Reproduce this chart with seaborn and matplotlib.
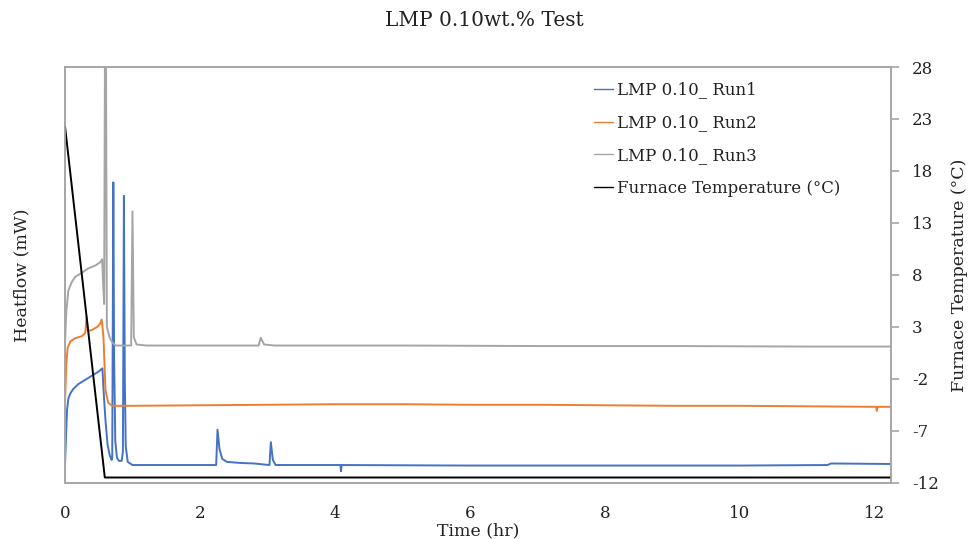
import matplotlib
matplotlib.use("Agg")
import matplotlib.pyplot as plt
import seaborn as sns
import pandas as pd

# ---------------- data ----------------
run1_t = [0.00, 0.015, 0.03, 0.05, 0.08, 0.12, 0.20, 0.30, 0.40, 0.50, 0.554, 0.575, 0.60, 0.63,
          0.66, 0.69, 0.70, 0.716, 0.728, 0.745, 0.77, 0.80, 0.84, 0.858, 0.873, 0.886, 0.90,
          0.93, 1.00, 2.24, 2.26, 2.29, 2.33, 2.40, 2.60, 2.80, 3.03, 3.05, 3.08, 3.12, 4.08,
          4.09, 4.10, 6.00, 8.00, 10.00, 11.30, 11.35, 12.24]
run1_v = [-10.4, -7.5, -5.0, -3.9, -3.4, -3.0, -2.5, -2.1, -1.7, -1.3, -1.0, -3.5, -6.0, -8.3,
          -9.3, -9.8, -9.6, 16.9, 0.0, -8.0, -9.6, -9.9, -9.9, -9.0, 15.6, -2.0, -8.5,
          -10.0, -10.3, -10.3, -6.9, -8.8, -9.7, -10.0, -10.1, -10.15, -10.3, -8.1, -9.8, -10.3, -10.3,
          -10.9, -10.3, -10.35, -10.35, -10.35, -10.3, -10.15, -10.2]

run2_t = [0.00, 0.02, 0.04, 0.08, 0.15, 0.25, 0.30, 0.32, 0.34, 0.40, 0.48, 0.52, 0.545,
          0.57, 0.60, 0.64, 0.70, 1.00, 2.00, 3.00, 4.00, 5.00, 6.00, 7.00, 8.00, 9.00,
          10.00, 11.00, 12.02, 12.03, 12.04, 12.24]
run2_v = [-4.3, -0.5, 1.0, 1.6, 1.9, 2.1, 2.4, 3.9, 2.6, 2.7, 3.0, 3.3, 3.7,
          2.0, -3.1, -4.3, -4.6, -4.6, -4.55, -4.5, -4.45, -4.45, -4.5, -4.5, -4.55, -4.6,
          -4.6, -4.65, -4.7, -5.1, -4.7, -4.7]

run3_t = [0.00, 0.02, 0.05, 0.10, 0.15, 0.25, 0.34, 0.45, 0.52, 0.55, 0.565, 0.58, 0.60,
          0.62, 0.66, 0.70, 0.75, 0.85, 0.98, 1.00, 1.02, 1.06, 1.20, 2.00, 2.87, 2.90,
          2.95, 3.10, 5.00, 7.00, 9.00, 11.00, 12.24]
run3_v = [1.5, 4.5, 6.5, 7.3, 7.8, 8.2, 8.6, 8.9, 9.2, 9.5, 7.2, 5.2, 45.0,
          3.0, 2.0, 1.5, 1.2, 1.2, 1.2, 14.1, 2.0, 1.3, 1.2, 1.2, 1.2, 1.95,
          1.3, 1.2, 1.2, 1.15, 1.15, 1.1, 1.1]

temp_t = [0.00, 0.59, 12.24]
temp_v = [22.3, -11.5, -11.5]

labels = ["LMP 0.10_ Run1", "LMP 0.10_ Run2", "LMP 0.10_ Run3", "Furnace Temperature (\u00b0C)"]
colors = ["#4472C4", "#ED7D31", "#A5A5A5", "#000000"]
temp_ticks = [-12, -7, -2, 3, 8, 13, 18, 23, 28]
time_ticks = [0, 2, 4, 6, 8, 10, 12]

# ---------------- plot ----------------
sns.set_theme(style="white")
plt.rcParams["font.family"] = ["DejaVu Serif"]

fig = plt.figure(figsize=(9.69, 5.39), dpi=100)
ax = fig.add_axes([65 / 969, 1 - 482.7 / 539, 826 / 969, 415.7 / 539])
ax2 = ax.twinx()

for t, v, lab, col in [(run1_t, run1_v, labels[0], colors[0]),
                       (run2_t, run2_v, labels[1], colors[1]),
                       (run3_t, run3_v, labels[2], colors[2])]:
    df = pd.DataFrame({"t": t, "v": v})
    sns.lineplot(data=df, x="t", y="v", ax=ax, color=col, lw=1.4, label=lab,
                 estimator=None, sort=False, legend=False)

dft = pd.DataFrame({"t": temp_t, "v": temp_v})
sns.lineplot(data=dft, x="t", y="v", ax=ax2, color=colors[3], lw=1.4, label=labels[3],
             estimator=None, sort=False, legend=False)

for a in (ax, ax2):
    a.set_xlim(0, 12.24)
    a.set_ylim(-12, 28)
    for s in a.spines.values():
        s.set_color("#a6a6a6")
        s.set_linewidth(1.2)

ax.set_yticks([])
ax.set_xticks(time_ticks)
ax.set_xticklabels([str(x) for x in time_ticks])
ax.tick_params(axis="x", length=0, pad=16, labelsize=12, colors="#222222")
ax.set_xlabel("Time (hr)", fontsize=12.5, labelpad=0, color="#222222")
ax.set_ylabel("Heatflow (mW)", fontsize=12.5, labelpad=25, color="#222222")

ax2.set_yticks(temp_ticks)
ax2.set_yticklabels([str(v) for v in temp_ticks])
ax2.tick_params(axis="y", direction="out", length=6, width=1.2, color="#a6a6a6",
                pad=9, labelsize=12, labelcolor="#222222", right=True)
ax2.set_ylabel("Furnace Temperature (\u00b0C)", fontsize=12.5, labelpad=9, color="#222222")
ax2.set_xlabel("")

fig.suptitle("LMP 0.10wt.% Test", y=1 - 21 / 539, fontsize=14.5, color="#222222", va="center")

handles = ax.get_lines()[:3] + ax2.get_lines()[:1]
leg = ax2.legend(handles, labels, loc="upper left", bbox_to_anchor=(0.641, 0.965),
                 frameon=False, fontsize=12, handlelength=1.1, handletextpad=0.25,
                 labelspacing=0.95, borderaxespad=0, borderpad=0)
for h in leg.legend_handles:
    h.set_linewidth(1.0)
for txt in leg.get_texts():
    txt.set_color("#222222")

fig.savefig("out.png", dpi=100)
